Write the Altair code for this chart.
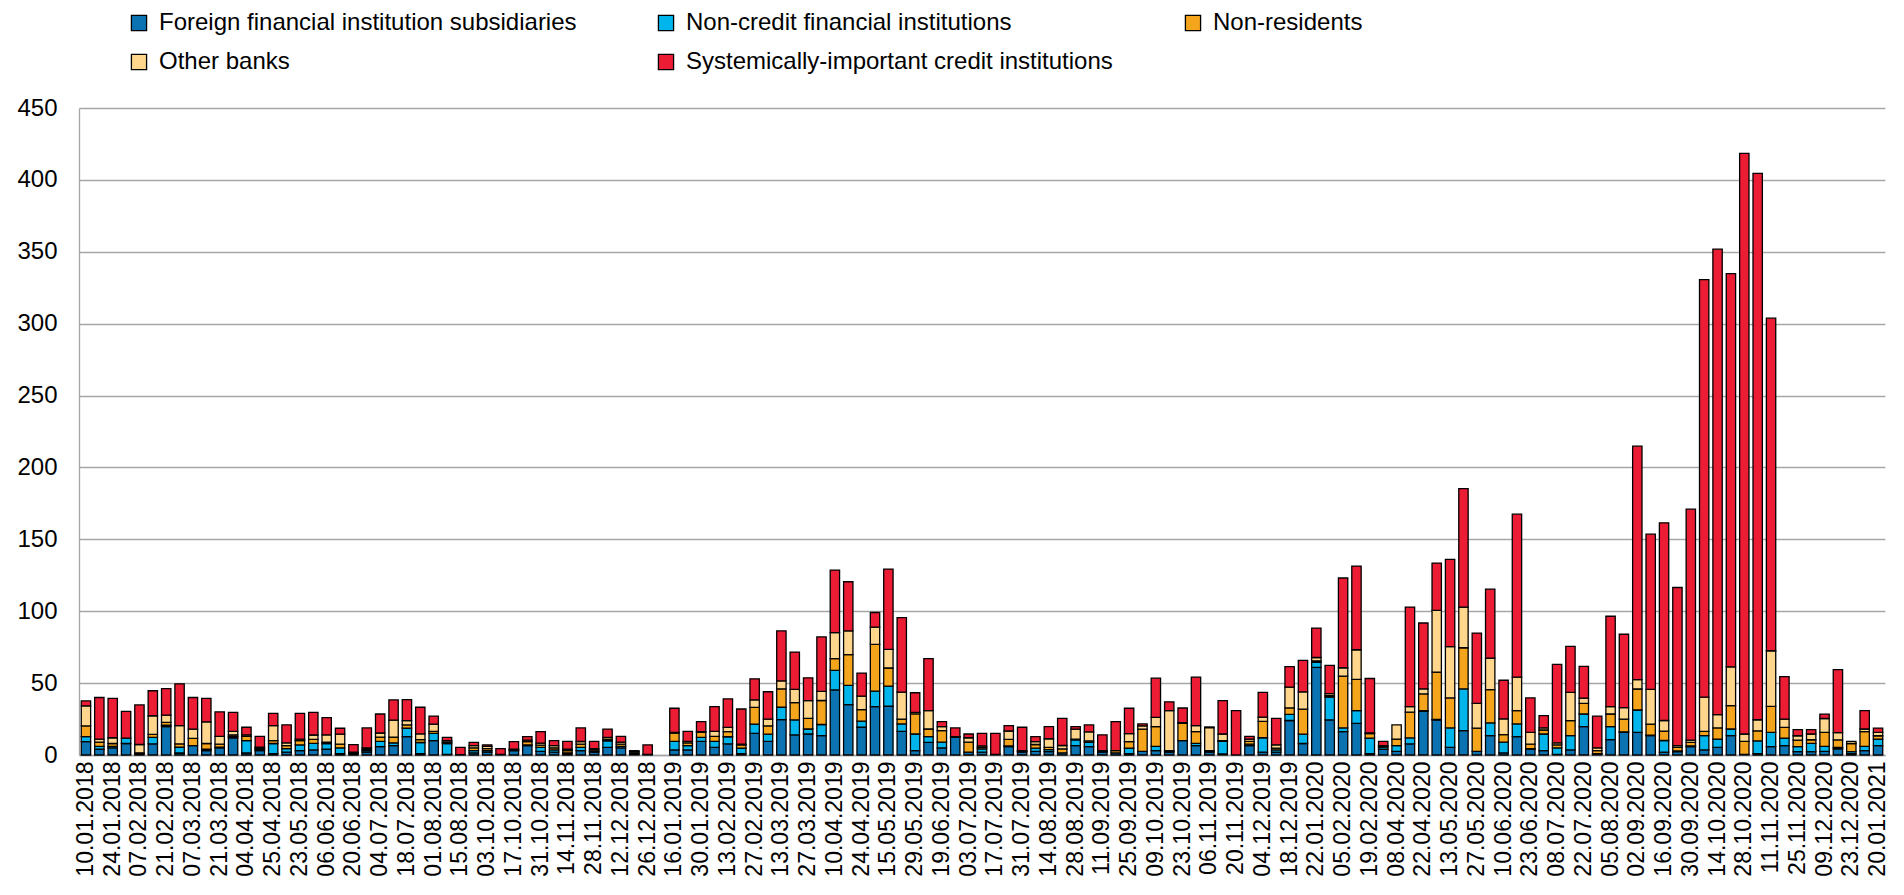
import altair as alt
import pandas as pd

dates = [
    "10.01.2018", "17.01.2018", "24.01.2018", "31.01.2018", "07.02.2018", "14.02.2018", "21.02.2018", "28.02.2018",
    "07.03.2018", "14.03.2018", "21.03.2018", "28.03.2018", "04.04.2018", "11.04.2018", "25.04.2018", "09.05.2018",
    "23.05.2018", "30.05.2018", "06.06.2018", "13.06.2018", "20.06.2018", "27.06.2018", "04.07.2018", "11.07.2018",
    "18.07.2018", "25.07.2018", "01.08.2018", "08.08.2018", "15.08.2018", "12.09.2018", "03.10.2018", "10.10.2018",
    "17.10.2018", "24.10.2018", "31.10.2018", "07.11.2018", "14.11.2018", "21.11.2018", "28.11.2018", "05.12.2018",
    "12.12.2018", "19.12.2018", "26.12.2018", "09.01.2019", "16.01.2019", "23.01.2019", "30.01.2019", "06.02.2019",
    "13.02.2019", "20.02.2019", "27.02.2019", "06.03.2019", "13.03.2019", "20.03.2019", "27.03.2019", "03.04.2019",
    "10.04.2019", "17.04.2019", "24.04.2019", "08.05.2019", "15.05.2019", "22.05.2019", "29.05.2019", "12.06.2019",
    "19.06.2019", "26.06.2019", "03.07.2019", "10.07.2019", "17.07.2019", "24.07.2019", "31.07.2019", "07.08.2019",
    "14.08.2019", "21.08.2019", "28.08.2019", "04.09.2019", "11.09.2019", "18.09.2019", "25.09.2019", "02.10.2019",
    "09.10.2019", "16.10.2019", "23.10.2019", "30.10.2019", "06.11.2019", "13.11.2019", "20.11.2019", "27.11.2019",
    "04.12.2019", "11.12.2019", "18.12.2019", "15.01.2020", "22.01.2020", "29.01.2020", "05.02.2020", "12.02.2020",
    "19.02.2020", "01.04.2020", "08.04.2020", "15.04.2020", "22.04.2020", "06.05.2020", "13.05.2020", "20.05.2020",
    "27.05.2020", "03.06.2020", "10.06.2020", "17.06.2020", "23.06.2020", "01.07.2020", "08.07.2020", "15.07.2020",
    "22.07.2020", "29.07.2020", "05.08.2020", "19.08.2020", "02.09.2020", "09.09.2020", "16.09.2020", "23.09.2020",
    "30.09.2020", "07.10.2020", "14.10.2020", "21.10.2020", "28.10.2020", "04.11.2020", "11.11.2020", "18.11.2020",
    "25.11.2020", "02.12.2020", "09.12.2020", "16.12.2020", "23.12.2020", "06.01.2021", "20.01.2021",
]

tick_labels = dates[0::2]

foreign = [
    9.3, 4, 5, 8, 1, 7.7, 19.7, 1.4, 6.5, 3, 5, 12, 1.4, 3, 1, 2,
    3, 3.5, 4, 1, 1, 2, 5.8, 6.5, 12.8, 1, 10, 0.5, 0, 1.5, 2, 0.5,
    3, 6.5, 2.5, 2, 1, 3, 2, 5.3, 5, 0.5, 0.5, 0, 3.5, 3.5, 9.5, 5.3,
    7.7, 1, 15, 9.5, 24.6, 14, 14.6, 13.5, 45.3, 35, 19.3, 33.6, 33.9, 16.5, 3, 8.8,
    4.9, 12.3, 2, 2, 0.5, 5.8, 2, 2.5, 2.3, 1.5, 6.5, 5.8, 2, 1.5, 1, 2.5,
    3, 2, 10, 6.5, 2, 0.7, 0, 6.5, 2, 2, 24, 8, 61, 24.4, 16.2, 22,
    1, 4, 2.5, 7.7, 30.4, 24.4, 5.3, 17, 2.5, 13.5, 1.5, 12.8, 4, 3, 0.5, 3.5,
    19.7, 0.5, 10.7, 15.8, 15.8, 13.5, 2, 2.3, 5.8, 3.5, 5.3, 13.5, 0.5, 1, 5.8, 6.5,
    2.3, 2.3, 2.5, 4.2, 1, 3, 6.5,
]
noncredit = [
    3.5, 2, 1, 3.7, 0, 4.6, 1, 4, 0, 1, 0.5, 1, 8.6, 1, 7, 2.5,
    4, 4.6, 4, 4, 0.5, 1, 3.7, 2, 5.8, 7.7, 5, 7.5, 0.3, 1.5, 1, 0,
    0.5, 0.5, 2.8, 1.5, 0.5, 2.3, 0.5, 4.6, 1, 0.5, 0, 0, 6, 3, 2.8, 4.2,
    5, 3.7, 6.5, 5, 8.6, 10.4, 3.5, 7.7, 13.5, 13.4, 4.2, 10.8, 14, 5.1, 11.6, 4,
    4, 0.5, 0, 2.3, 0, 0.5, 0.5, 2.3, 1.5, 0, 4, 3, 0.5, 0, 3.7, 0,
    3, 0.5, 0, 1.6, 0.5, 8.8, 0, 1, 10, 1.5, 4.2, 6.5, 3.5, 15.8, 2.6, 8.9,
    10.7, 1.5, 4, 4.2, 0.5, 0.3, 13.5, 29, 0, 8.8, 7.4, 8.8, 0.5, 11.6, 4.5, 10,
    8.8, 0.5, 9, 0.3, 15.5, 0.3, 8.1, 0.5, 0.5, 10, 5.8, 4.6, 0, 8.8, 10, 5.3,
    3.5, 5.8, 3.5, 1, 1.4, 3, 4.6,
]
nonresidents = [
    7.4, 3, 2, 0, 0.5, 2, 2, 2.3, 5, 4, 2, 1, 3, 1, 2, 2,
    3, 2.8, 1, 2.5, 0.5, 1, 3, 4, 2.3, 2, 1.5, 1, 0, 2, 1.5, 0,
    0.5, 2.3, 1.5, 1.5, 1.5, 2.3, 1, 1.2, 1.5, 1, 0, 0, 5.8, 2, 3.5, 3.5,
    3.5, 2.3, 11.6, 5.8, 12.8, 12, 7.4, 16.7, 8.2, 21.4, 8.1, 32.6, 12.6, 3.4, 14, 5.3,
    8.1, 0, 7, 1, 0, 4.6, 0.5, 2.5, 1.5, 2.8, 0.5, 1, 0.5, 1.5, 4.6, 15.5,
    13.7, 0.5, 12, 8.1, 0.5, 0.5, 0, 2, 11.4, 1.3, 4.6, 17.4, 1, 1, 36.1, 21.7,
    3.2, 0.5, 4.6, 17.9, 11.6, 33, 20.9, 28.6, 16.2, 23.2, 5.3, 9.3, 3, 2.8, 2, 10.4,
    7.4, 2, 8.8, 8.8, 14.6, 7.7, 6.5, 2.5, 2.5, 3, 7.7, 16.2, 9, 7, 18, 7.4,
    4.6, 2.5, 9.7, 5.3, 5.6, 10.2, 2.3,
]
other_banks = [
    14, 2, 4, 0, 5.8, 13, 5, 12.8, 6.5, 15, 5.5, 2.5, 1, 0.5, 10.4, 2,
    1, 3, 5, 7, 0, 1, 2.8, 11.8, 3, 4, 5, 1, 0, 1.5, 1.5, 0,
    0, 1, 1.5, 1.5, 1, 1.8, 1, 1.1, 1.5, 0.5, 0, 0, 0.5, 1, 0.5, 3.5,
    3, 0.5, 5.3, 4.6, 5.5, 9.3, 12.3, 6.3, 18.1, 16.5, 9.3, 12, 13, 18.7, 1, 12.8,
    2.8, 0, 3, 1, 0, 5.8, 0, 2, 6, 2.3, 7, 6.3, 0, 0, 5.6, 2.3,
    6.5, 27.8, 0.5, 4.2, 16, 4.6, 0, 1.5, 3, 2.3, 14.4, 12, 2.3, 1.5, 5.8, 20.6,
    0.5, 0.5, 9.9, 3.9, 3.5, 42.9, 35.7, 28.3, 17.2, 21.8, 10.9, 23.2, 8.2, 1.4, 1.5, 19.7,
    3.7, 2, 5.1, 8.1, 6.5, 24.2, 7.4, 1.2, 1.6, 23.7, 9.3, 27, 5.1, 7.7, 38.7, 5.8,
    3, 4, 9.7, 5.1, 1.5, 1.9, 2.3,
]
systemic = [
    3.4, 29, 27.4, 18.7, 27.5, 17.4, 18.5, 29, 22, 16.4, 17, 13.2, 5.3, 7.5, 8.6, 12.5,
    18, 15.8, 12, 4.1, 5.2, 13.8, 13.2, 14, 14.6, 18.5, 5.5, 2.3, 5, 2.3, 1, 4,
    5.3, 2.5, 7.9, 3.5, 5.5, 9.4, 5, 5.8, 4, 0.5, 6.5, 0, 16.7, 7, 6.9, 17.1,
    19.8, 24.5, 14.6, 19.1, 34.8, 25.9, 15.9, 37.9, 43.5, 34.2, 16.1, 10.1, 55.8, 51.9, 13.7, 36.1,
    3.4, 6, 2.6, 8.7, 14.5, 3.7, 16.3, 3.5, 8.4, 18.9, 1.7, 4.8, 11, 20.2, 17.6, 1.3,
    27.2, 6.2, 10.2, 33.8, 0.5, 23.2, 30.9, 2, 17.2, 18.4, 14.3, 21.9, 20.5, 19.6, 62.4, 58.2,
    37.8, 3, 0, 69.2, 45.8, 32.9, 60.7, 82.4, 48.9, 48, 26.9, 113.4, 24, 8.6, 54.6, 32,
    22.1, 22, 62.9, 51, 162.4, 107.9, 137.5, 110, 160.6, 290.4, 323.7, 273.5, 403.8, 380, 231.3, 29.5,
    4.2, 3, 3, 43.8, 0, 12.8, 3,
]

series_names = [
    "Foreign financial institution subsidiaries",
    "Non-credit financial institutions",
    "Non-residents",
    "Other banks",
    "Systemically-important credit institutions",
]
series_colors = ["#0B73B2", "#00B5EB", "#F5A51C", "#FFD68C", "#EC1C34"]
series_values = [foreign, noncredit, nonresidents, other_banks, systemic]

rows = []
for i, d in enumerate(dates):
    for j, (name, vals) in enumerate(zip(series_names, series_values)):
        if vals[i] > 0:
            rows.append({"date": d, "series": name, "value": vals[i], "order": j})
df = pd.DataFrame(rows)

chart = (
    alt.Chart(df)
    .mark_bar(stroke="black", strokeWidth=1.3)
    .encode(
        x=alt.X(
            "date:N",
            sort=dates,
            scale=alt.Scale(domain=dates, paddingInner=0.3, paddingOuter=0.17),
            axis=alt.Axis(
                values=tick_labels,
                title=None,
                labelAngle=-90,
                ticks=False,
                labelPadding=6,
                labelFontSize=23,
                labelColor="black",
                domainColor="#A6A6A6",
                domainWidth=1.3,
                grid=False,
                labelOverlap=False,
            ),
        ),
        y=alt.Y(
            "value:Q",
            stack="zero",
            scale=alt.Scale(domain=[0, 450], nice=False),
            axis=alt.Axis(
                values=list(range(0, 451, 50)),
                title=None,
                ticks=False,
                labelPadding=22,
                labelFontSize=24,
                labelColor="black",
                gridColor="#A6A6A6",
                gridWidth=1.3,
                domainColor="#A6A6A6",
                domainWidth=1.3,
            ),
        ),
        color=alt.Color(
            "series:N",
            scale=alt.Scale(domain=series_names, range=series_colors),
            legend=alt.Legend(
                title=None,
                orient="none",
                legendX=48,
                legendY=-97,
                direction="horizontal",
                columns=3,
                gridAlign="all",
                columnPadding=68,
                rowPadding=15,
                labelFontSize=24,
                labelColor="black",
                labelLimit=800,
                labelOffset=8,
                symbolType="square",
                symbolSize=230,
                symbolStrokeColor="black",
                symbolStrokeWidth=1.3,
                padding=0,
            ),
        ),
        order=alt.Order("order:Q", sort="ascending"),
    )
    .properties(
        width=1806,
        height=647,
        autosize=alt.AutoSizeParams(type="none"),
        padding={"left": 71, "top": 100, "right": 9, "bottom": 126},
    )
    .configure(font="Liberation Sans")
    .configure_view(stroke=None)
)

chart.save("out.html", embed_options={"renderer": "svg", "actions": False})
